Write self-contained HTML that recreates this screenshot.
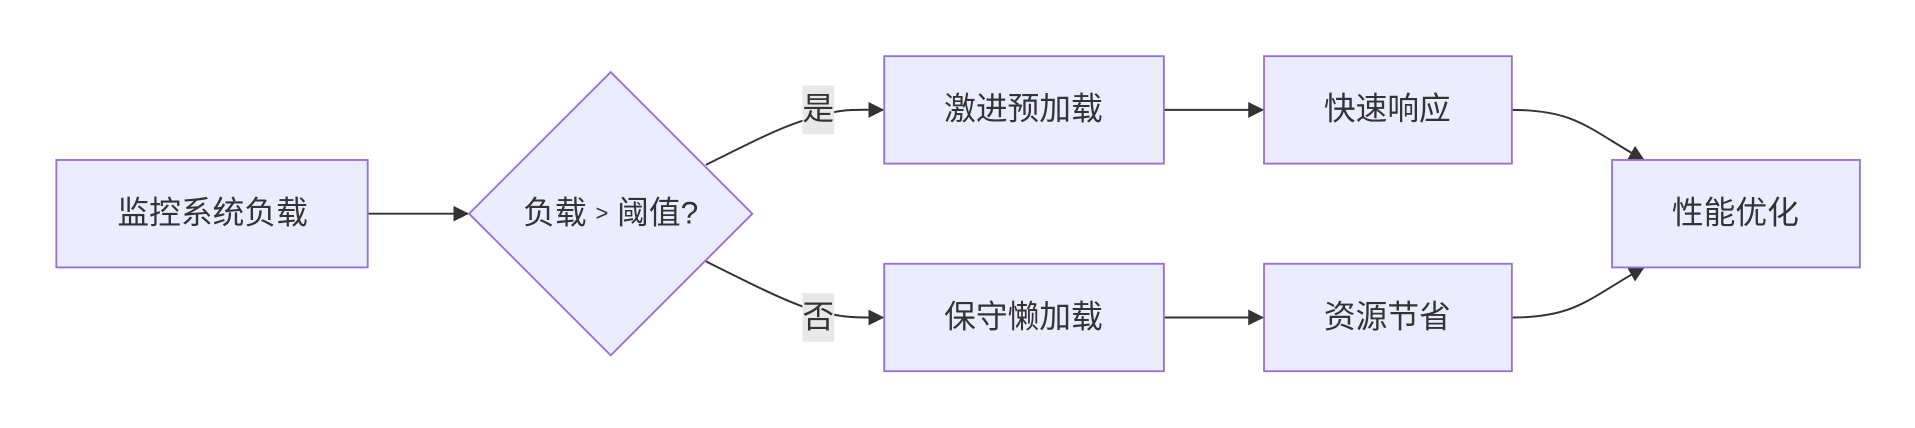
<!DOCTYPE html>
<html><head><meta charset="utf-8"><style>
html,body{margin:0;padding:0;background:#fff;}
svg{display:block;}
text{font-family:"Liberation Sans","Noto Sans CJK SC",sans-serif;fill:#333;font-size:26px;text-anchor:middle;dominant-baseline:central;}
.n{fill:#ECECFF;stroke:#9370DB;stroke-width:1.5;}
.e{fill:none;stroke:#333;stroke-width:1.6;}
</style></head><body>
<svg width="1915" height="428" viewBox="0 0 1568 350.5" xmlns="http://www.w3.org/2000/svg">
<defs><marker id="a" viewBox="0 0 10 10" refX="9" refY="5" markerWidth="8" markerHeight="8" orient="auto" markerUnits="userSpaceOnUse"><path d="M0,0L10,5L0,10z" fill="#333"/></marker>
<marker id="b" viewBox="0 0 12 12" refX="11" refY="6" markerWidth="13" markerHeight="13" orient="auto" markerUnits="userSpaceOnUse"><path d="M0,0L12,6L0,12z" fill="#333"/></marker></defs>
<path class="e" d="M301,175L383,175" marker-end="url(#b)"/>
<path class="e" d="M578,135C620,114 640,104 660,98 C690,88 700,90 723,90" marker-end="url(#b)"/>
<path class="e" d="M578,214C620,235 640,245 660,252 C690,261 700,260 723,260" marker-end="url(#b)"/>
<path class="e" d="M953,90L1034,90" marker-end="url(#b)"/>
<path class="e" d="M953,260L1034,260" marker-end="url(#b)"/>
<path class="e" d="M1238,90C1290,90 1300,105 1346,131" marker-end="url(#b)"/>
<path class="e" d="M1238,260C1290,260 1300,245 1346,219" marker-end="url(#b)"/>
<rect x="657" y="70" width="26" height="40" fill="#e8e8e8"/>
<text x="670" y="89">是</text>
<rect x="657" y="240" width="26" height="40" fill="#e8e8e8"/>
<text x="670" y="259">否</text>
<rect class="n" x="46" y="131" width="255" height="88"/><text x="174" y="174">监控系统负载</text>
<polygon class="n" points="500,59 616,175 500,291 384,175"/><text x="500" y="174">负载 <tspan font-size="18">&gt;</tspan> 阈值?</text>
<rect class="n" x="724" y="46" width="229" height="88"/><text x="838" y="89">激进预加载</text>
<rect class="n" x="724" y="216" width="229" height="88"/><text x="838" y="259">保守懒加载</text>
<rect class="n" x="1035" y="46" width="203" height="88"/><text x="1136" y="89">快速响应</text>
<rect class="n" x="1035" y="216" width="203" height="88"/><text x="1136" y="259">资源节省</text>
<rect class="n" x="1320" y="131" width="203" height="88"/><text x="1421" y="174">性能优化</text>
</svg>
</body></html>
